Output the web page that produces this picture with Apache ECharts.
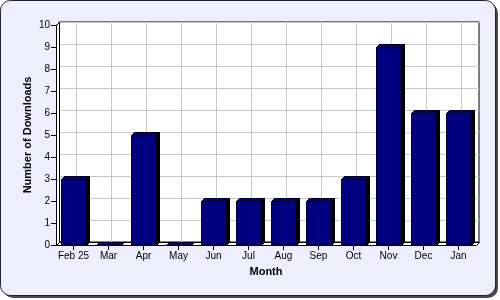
<!DOCTYPE html>
<html>
<head>
<meta charset="utf-8">
<script src="https://cdn.jsdelivr.net/npm/echarts@6/dist/echarts.min.js"></script>
<style>
html,body{margin:0;padding:0;background:#fff;}
#chart{width:500px;height:300px;}
</style>
</head>
<body>
<div id="chart"></div>
<script>
var categories = ['Feb 25','Mar','Apr','May','Jun','Jul','Aug','Sep','Oct','Nov','Dec','Jan'];
var downloads = [3, 0, 5, 0, 2, 2, 2, 2, 3, 9, 6, 6];
var yTicks = { min: 0, max: 10, interval: 1 };
var xTitle = 'Month';
var yTitle = 'Number of Downloads';

var DEPTH = 3;
var BAR_W = 25;
var FONT = '"Liberation Sans", Arial, sans-serif';

// back-wall helper axis: half-category positions so split lines fall on category centres
var halfSteps = [];
for (var i = 0; i <= categories.length * 2; i++) halfSteps.push(String(i));

var chart = echarts.init(document.getElementById('chart'), null, {renderer: 'canvas'});

function renderWalls(params, api) {
  var cs = params.coordSys;
  var x0 = cs.x + 0.5, y0 = cs.y + 0.5, x1 = cs.x + cs.width + 0.5, yb = cs.y + cs.height + 0.5, d = DEPTH;
  return {
    type: 'group',
    children: [
      { type: 'polygon', shape: { points: [[x0, yb], [x0 + d, yb - d], [x1 + d, yb - d], [x1, yb]] },
        style: { fill: '#ffffff', stroke: '#000', lineWidth: 1 } },
      { type: 'polygon', shape: { points: [[x0, yb], [x0, y0], [x0 + d, y0 - d], [x0 + d, yb - d]] },
        style: { fill: '#ffffff', stroke: '#000', lineWidth: 1 } }
    ]
  };
}

function renderBar(params, api) {
  var idx = api.value(0), val = api.value(1);
  var top = api.coord([idx, val]);
  var base = api.coord([idx, 0]);
  var d = DEPTH, hw = BAR_W / 2;
  var xl = Math.round(top[0] - hw) + 0.5, xr = xl + BAR_W;
  var yt = Math.round(top[1]) + 0.5, yb = Math.round(base[1]) + 0.5;
  return {
    type: 'group',
    children: [
      { type: 'polygon', shape: { points: [[xr, yt], [xr + d, yt - d], [xr + d, yb - d], [xr, yb]] },
        style: { fill: '#000000', stroke: '#000', lineWidth: 1 } },
      { type: 'polygon', shape: { points: [[xl, yt], [xl + d, yt - d], [xr + d, yt - d], [xr, yt]] },
        style: { fill: '#000080', stroke: '#000', lineWidth: 1 } },
      { type: 'rect', shape: { x: xl, y: yt, width: BAR_W, height: yb - yt },
        style: { fill: '#000080', stroke: '#000', lineWidth: 1 } }
    ]
  };
}

var option = {
  animation: false,
  backgroundColor: 'transparent',
  graphic: {
    elements: [
      { type: 'rect', z: -100, shape: { x: 3, y: 3, width: 495, height: 295, r: 10 },
        style: { fill: '#4a4a4a' } },
      { type: 'rect', z: -99, shape: { x: 0.5, y: 0.5, width: 495, height: 295, r: 10 },
        style: { fill: '#eeeeff', stroke: '#222', lineWidth: 1 } }
    ]
  },
  grid: [
    { left: 56, right: 24, top: 25, bottom: 55, containLabel: false },
    { left: 56 + DEPTH, right: 24 - DEPTH, top: 25 - DEPTH, bottom: 55 + DEPTH, show: true,
      backgroundColor: '#ffffff', borderColor: '#000', borderWidth: 1 }
  ],
  xAxis: [
    { type: 'category', gridIndex: 0, data: categories, boundaryGap: true,
      axisLine: { show: true, lineStyle: { color: '#000', width: 1 } },
      axisTick: { show: true, alignWithLabel: true, length: 5, lineStyle: { color: '#000' } },
      axisLabel: { color: '#000', fontSize: 10, fontFamily: FONT, margin: 6, interval: 0 },
      splitLine: { show: false },
      name: xTitle, nameLocation: 'middle', nameGap: 21, nameMoveOverlap: false,
      nameTextStyle: { color: '#000', fontSize: 11, fontWeight: 'bold', fontFamily: FONT } },
    { type: 'category', gridIndex: 1, data: halfSteps, boundaryGap: false,
      axisLine: { show: false }, axisTick: { show: false }, axisLabel: { show: false },
      splitLine: { show: true, interval: function (index) { return index % 2 === 1; },
        lineStyle: { color: '#c8c8c8', width: 1 } } }
  ],
  yAxis: [
    { type: 'value', gridIndex: 0, min: yTicks.min, max: yTicks.max, interval: yTicks.interval,
      axisLine: { show: true, lineStyle: { color: '#000', width: 1 } },
      axisTick: { show: true, length: 5, lineStyle: { color: '#000' } },
      axisLabel: { color: '#000', fontSize: 10, fontFamily: FONT, margin: 6 },
      splitLine: { show: false },
      name: yTitle, nameLocation: 'middle', nameGap: 23, nameRotate: 90, nameMoveOverlap: false,
      nameTextStyle: { color: '#000', fontSize: 11, fontWeight: 'bold', fontFamily: FONT } },
    { type: 'value', gridIndex: 1, min: yTicks.min, max: yTicks.max, interval: yTicks.interval,
      axisLine: { show: false }, axisTick: { show: false }, axisLabel: { show: false },
      splitLine: { show: true, lineStyle: { color: '#c8c8c8', width: 1 } } }
  ],
  series: [
    { type: 'custom', xAxisIndex: 0, yAxisIndex: 0, z: 2, clip: false, silent: true,
      renderItem: renderWalls, data: [[0, 0]] },
    { type: 'custom', xAxisIndex: 0, yAxisIndex: 0, z: 3, clip: false,
      renderItem: renderBar,
      data: categories.map(function (c, i) { return [i, downloads[i]]; }) }
  ]
};
chart.setOption(option);
</script>
</body>
</html>
